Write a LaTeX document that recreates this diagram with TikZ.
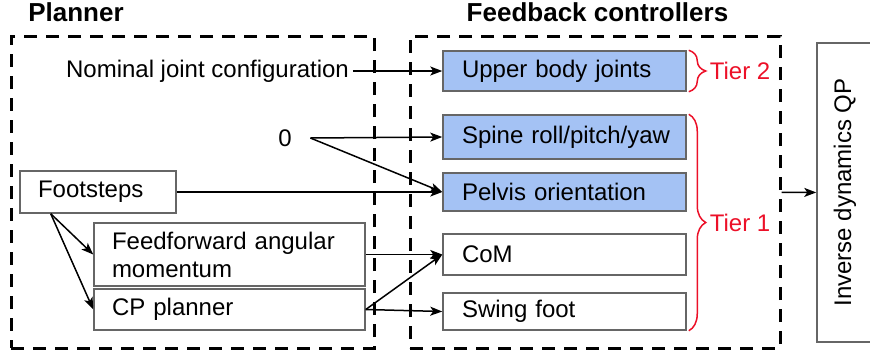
\documentclass[tikz,border=0pt]{standalone}
\usepackage{fontspec}
\setmainfont{Liberation Sans}
\usetikzlibrary{arrows.meta,positioning,calc,decorations.pathreplacing}
\definecolor{ctrlblue}{RGB}{164,194,244}
\definecolor{boxgray}{RGB}{102,102,102}
\definecolor{tierred}{RGB}{236,16,40}
\tikzstyle{every node}=[font=\fontsize{24}{28}\selectfont]
\tikzstyle{block}=[draw=boxgray, line width=1.5pt, inner xsep=18pt, inner ysep=0pt, align=left]
\tikzstyle{controller}=[block, minimum height=40pt, text width=224pt, inner xsep=9.5pt, execute at begin node={\hspace*{9.5pt}}]
\tikzstyle{active controller}=[controller, fill=ctrlblue]
\tikzstyle{group}=[draw, line width=3pt, dash pattern=on 13pt off 9pt]
\tikzstyle{title}=[font=\fontsize{26}{30}\selectfont\bfseries]
\tikzstyle{tier}=[-, draw=tierred, line width=1.5pt, decorate, decoration={brace, amplitude=17pt}]
\tikzstyle{tier label}=[text=tierred]

\begin{document}
\begin{tikzpicture}[x=1pt, y=-1pt, ->, >={Stealth[length=12pt,width=9pt,inset=3pt]}, line width=1.5pt]
  \useasboundingbox (0,0) rectangle (870,354);

  % dashed groups
  \node[group, minimum width=363pt, minimum height=312pt] (planner) at (192.5,192) {};
  \node[group, minimum width=370pt, minimum height=312pt] (feedback) at (595,192) {};
  \node[title] (plannertitle) at (76,12.5) {Planner};
  \node[title] (feedbacktitle) at (597.5,12.5) {Feedback controllers};

  % controllers
  \node[active controller] (upper) at (564.5,71) {Upper body joints};
  \node[active controller, minimum height=44pt, below = 22.5pt of upper] (spine) {Spine roll/pitch/yaw};
  \node[active controller, minimum height=38pt, below = 12.5pt of spine] (pelvis) {Pelvis orientation};
  \node[controller, minimum height=41pt, below = 21.5pt of pelvis] (com) {CoM};
  \node[controller, minimum height=37pt, below = 16.5pt of com] (swing) {Swing foot};

  % planner
  \node (nominal) at (207.5,71) {Nominal joint configuration};
  \node[inner xsep=18pt] (zero) at (285,138) {0};
  \node[block, minimum height=42pt, text width=120pt] (footsteps) at (98,192) {Footsteps};
  \node[block, minimum height=63pt, text width=235pt] (ff) at (229.5,254.5) {Feedforward angular\\momentum};
  \node[block, minimum height=41pt, text width=235pt, below = 1.5pt of ff] (cp) {CP planner};
  \coordinate (fsout) at ($(footsteps.south west)!0.2!(footsteps.south east)$);

  \node[block, rotate=90, minimum width=299pt, minimum height=56pt, inner xsep=0pt, align=center] (qp) at (845,192.5) {Inverse dynamics QP};

  % connections
  \path (nominal) edge (upper.west);
  \path (zero.east) edge (spine.west);
  \path (zero.east) edge (pelvis.west);
  \path (footsteps.east) edge (pelvis.west);
  \path (fsout) edge (ff.west);
  \path (fsout) edge (cp.west);
  \path (ff.east) edge (com.west);
  \path (cp.east) edge (com.west);
  \path (cp.east) edge (swing.west);
  \path (feedback) edge (qp);

  % tiers
  \draw[tier] ([xshift=2pt]upper.north east) -- ([xshift=2pt]upper.south east)
    node[tier label, midway, right=17pt] {Tier 2};
  \draw[tier] ([xshift=2pt]spine.north east) -- ([xshift=2pt]swing.south east)
    node[tier label, midway, right=17pt] {Tier 1};
\end{tikzpicture}
\end{document}
